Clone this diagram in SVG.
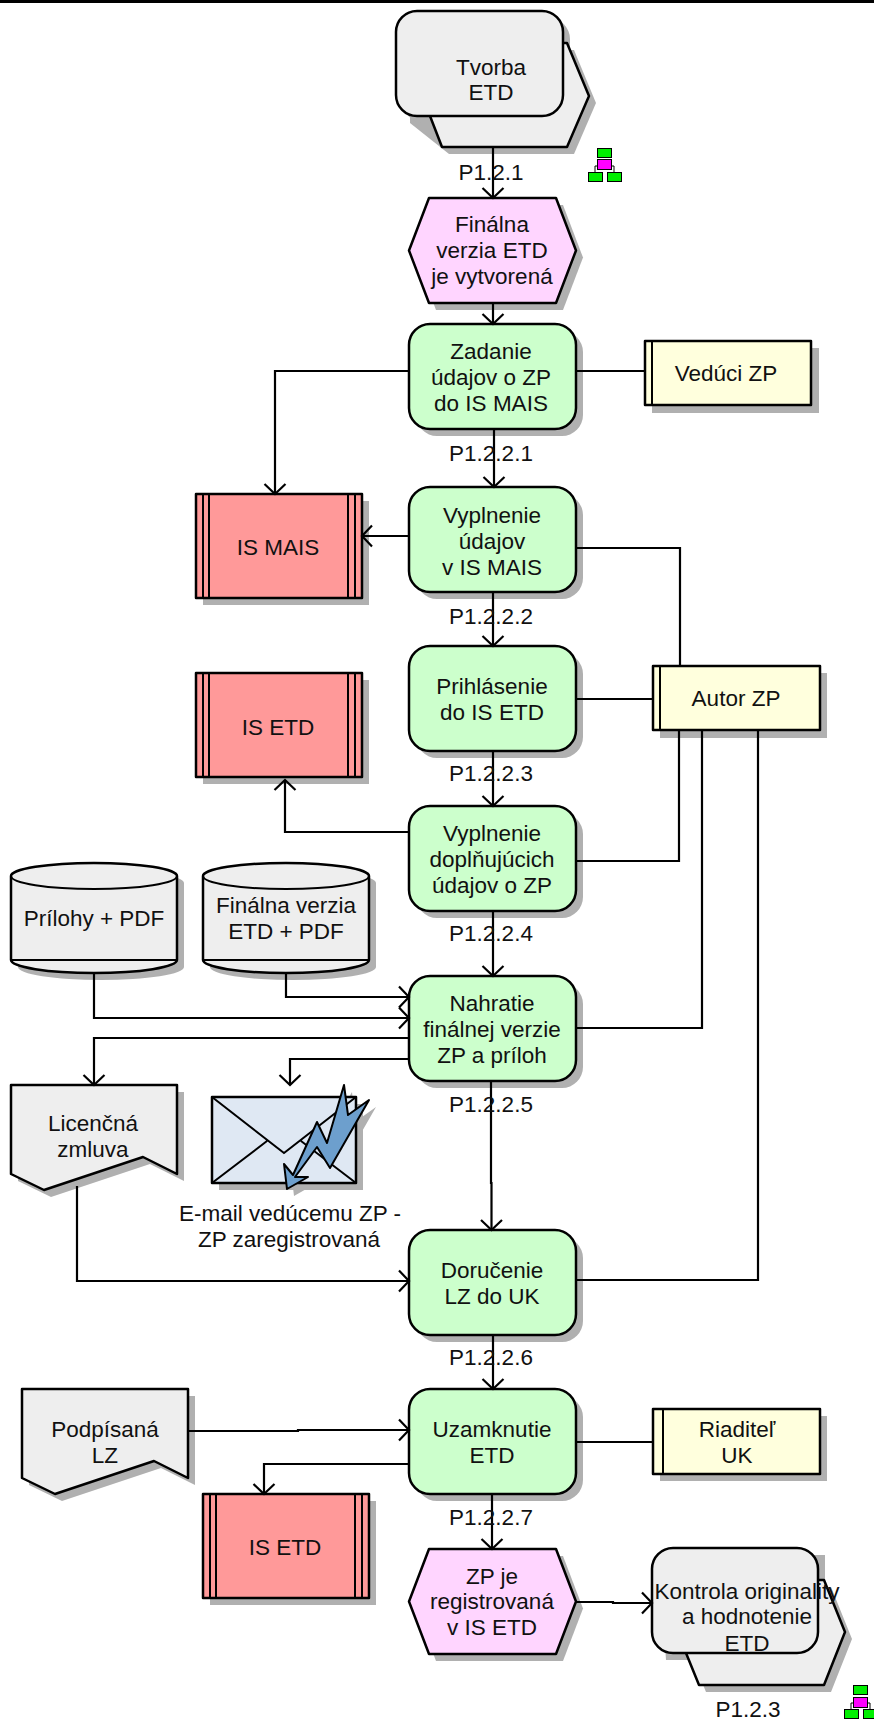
<svg xmlns="http://www.w3.org/2000/svg" width="874" height="1722" viewBox="0 0 874 1722">
<style>
text{font-family:"Liberation Sans",Arial,sans-serif;font-size:22.5px;fill:#111;text-anchor:middle}
.s{fill:#b0b0b0;stroke:none}
.n{stroke:#000;stroke-width:2.5;stroke-linejoin:round}
.l{fill:none;stroke:#000;stroke-width:2}
.gr{fill:#eeeeee}.g{fill:#ccffcc}.p{fill:#ffd5ff}.r{fill:#ff9999}.y{fill:#ffffdd}
.c{fill:none;stroke:#000;stroke-width:2.2}
.ig{fill:#00ee00;stroke:#000;stroke-width:1}.im{fill:#ff00ff;stroke:#000;stroke-width:1}
</style>
<defs>
<marker id="a" markerUnits="userSpaceOnUse" markerWidth="24" markerHeight="24" refX="12" refY="12" orient="auto"><path d="M2 1.500L12 12L2 22.500" fill="none" stroke="#000" stroke-width="2.200"/></marker>
<rect id="gb" width="167" height="105" rx="21"/>
<path id="hx" d="M20 0H147L167 52.500L147 105H20L0 52.500Z"/>
<path id="pr" d="M0 0H166V104H0Z"/>
<path id="sb" d="M0 0H167V65H0Z"/>
<path id="cy" d="M0 13A83 13 0 0 1 166 13V97A83 13 0 0 1 0 97Z"/>
<path id="doc" d="M0 0H166V89L132 72L33 105L0 89Z"/>
</defs>
<rect width="874" height="3" fill="#000"/>

<g id="n-tvorba">
<path class="s" d="M410 50H574L596 103L574 154H449L410 123Z"/><rect class="s" x="403" y="18" width="167" height="105" rx="21"/>
<path class="n gr" d="M430 43H567L589 96L567 147H442L430 116Z"/><rect class="n gr" x="396" y="11" width="167" height="105" rx="21"/>
<text x="491" y="75">Tvorba</text><text x="491" y="100">ETD</text>
</g>
<g id="n-icon1">
<path class="l" d="M595 172V166H614V172" style="stroke-width:1"/>
<rect class="ig" x="597.500" y="148.500" width="14" height="9"/><rect class="im" x="597.500" y="159.500" width="14" height="10"/><rect class="ig" x="588.500" y="172.500" width="14" height="9"/><rect class="ig" x="607.500" y="172.500" width="14" height="9"/>
</g>
<g id="n-finalna">
<use href="#hx" class="s" x="416" y="205"/><use href="#hx" class="n p" x="409" y="198"/>
<text x="492" y="232">Finálna</text><text x="492" y="258">verzia ETD</text><text x="492" y="284">je vytvorená</text>
</g>
<g id="n-zadanie">
<use href="#gb" class="s" x="416" y="331"/><use href="#gb" class="n g" x="409" y="324"/>
<text x="491" y="359">Zadanie</text><text x="491" y="385">údajov o ZP</text><text x="491" y="411">do IS MAIS</text>
</g>
<g id="n-veduci">
<use href="#sb" class="s" x="652" y="348"/><path class="n y" d="M645 341H811V405H645Z"/><path class="l" d="M652 341V405"/>
<text x="726" y="381">Vedúci ZP</text>
</g>
<g id="n-ismais">
<use href="#pr" class="s" x="203" y="501"/><use href="#pr" class="n r" x="196" y="494"/><path class="l" d="M203 494V598M209 494V598M348 494V598M355 494V598"/>
<text x="278" y="555">IS MAIS</text>
</g>
<g id="n-vyplnenie">
<use href="#gb" class="s" x="416" y="494"/><use href="#gb" class="n g" x="409" y="487"/>
<text x="492" y="523">Vyplnenie</text><text x="492" y="549">údajov</text><text x="492" y="575">v IS MAIS</text>
</g>
<g id="n-prihlasenie">
<use href="#gb" class="s" x="416" y="653"/><use href="#gb" class="n g" x="409" y="646"/>
<text x="492" y="694">Prihlásenie</text><text x="492" y="720">do IS ETD</text>
</g>
<g id="n-autor">
<use href="#sb" class="s" x="660" y="673"/><path class="n y" d="M653 666H820V730H653Z"/><path class="l" d="M660 666V730"/>
<text x="736" y="706">Autor ZP</text>
</g>
<g id="n-isetd1">
<use href="#pr" class="s" x="203" y="680"/><use href="#pr" class="n r" x="196" y="673"/><path class="l" d="M203 673V777M209 673V777M348 673V777M355 673V777"/>
<text x="278" y="735">IS ETD</text>
</g>
<g id="n-doplnujucich">
<use href="#gb" class="s" x="416" y="813"/><use href="#gb" class="n g" x="409" y="806"/>
<text x="492" y="841">Vyplnenie</text><text x="492" y="867">doplňujúcich</text><text x="492" y="893">údajov o ZP</text>
</g>
<g id="n-prilohy">
<use href="#cy" class="s" x="18" y="870"/><use href="#cy" class="n gr" x="11" y="863"/><path class="l" d="M11 876A83 13 0 0 0 177 876M11 960H177"/>
<text x="94" y="926">Prílohy + PDF</text>
</g>
<g id="n-finalna-pdf">
<use href="#cy" class="s" x="210" y="870"/><use href="#cy" class="n gr" x="203" y="863"/><path class="l" d="M203 876A83 13 0 0 0 369 876M203 960H369"/>
<text x="286" y="913">Finálna verzia</text><text x="286" y="939">ETD + PDF</text>
</g>
<g id="n-nahratie">
<use href="#gb" class="s" x="416" y="983"/><use href="#gb" class="n g" x="409" y="976"/>
<text x="492" y="1011">Nahratie</text><text x="492" y="1037">finálnej verzie</text><text x="492" y="1063">ZP a príloh</text>
</g>
<g id="n-licencna">
<use href="#doc" class="s" x="18" y="1092"/><use href="#doc" class="n gr" x="11" y="1085"/>
<text x="93" y="1131">Licenčná</text><text x="93" y="1157">zmluva</text>
</g>
<g id="n-email">
<path class="s" d="M219 1104H363V1190H219ZM352 1092L355 1122L376 1107L337 1175L324 1154L302 1184L315 1184L294 1196L291 1171L300 1182Z"/>
<path class="n" fill="#dfe8f3" d="M212 1097H356V1183H212Z"/>
<path class="l" d="M212 1097L284 1153L356 1097M212 1183L267 1141M356 1183L301 1141"/>
<path class="n" style="stroke-width:2" fill="#6d9fcd" d="M344 1085L348 1115L369 1100L330 1168L317 1147L295 1177L308 1177L287 1189L284 1164L293 1175L317 1122L327 1143Z"/>
<text x="290" y="1221">E-mail vedúcemu ZP -</text><text x="289" y="1247">ZP zaregistrovaná</text>
</g>
<g id="n-dorucenie">
<use href="#gb" class="s" x="416" y="1237"/><use href="#gb" class="n g" x="409" y="1230"/>
<text x="492" y="1278">Doručenie</text><text x="492" y="1304">LZ do UK</text>
</g>
<g id="n-podpisana">
<use href="#doc" class="s" x="29" y="1396"/><use href="#doc" class="n gr" x="22" y="1389"/>
<text x="105" y="1437">Podpísaná</text><text x="105" y="1463">LZ</text>
</g>
<g id="n-uzamknutie">
<use href="#gb" class="s" x="416" y="1396"/><use href="#gb" class="n g" x="409" y="1389"/>
<text x="492" y="1437">Uzamknutie</text><text x="492" y="1463">ETD</text>
</g>
<g id="n-riaditel">
<use href="#sb" class="s" x="660" y="1416"/><path class="n y" d="M653 1409H820V1474H653Z"/><path class="l" d="M663 1409V1474"/>
<text x="737" y="1437">Riaditeľ</text><text x="737" y="1463">UK</text>
</g>
<g id="n-isetd2">
<use href="#pr" class="s" x="210" y="1501"/><use href="#pr" class="n r" x="203" y="1494"/><path class="l" d="M210 1494V1598M216 1494V1598M355 1494V1598M362 1494V1598"/>
<text x="285" y="1555">IS ETD</text>
</g>
<g id="n-registrovana">
<use href="#hx" class="s" x="416" y="1556"/><use href="#hx" class="n p" x="409" y="1549"/>
<text x="492" y="1584">ZP je</text><text x="492" y="1609">registrovaná</text><text x="492" y="1635">v IS ETD</text>
</g>
<g id="n-kontrola">
<path class="s" d="M825 1587H831L852 1639L831 1692H706L693 1660H666L659 1555H825Z"/>
<path class="n gr" d="M686 1580H824L845 1632L824 1685H699L686 1653Z"/><rect class="n gr" x="652" y="1548" width="166" height="105" rx="21"/>
<text x="747" y="1599">Kontrola originality</text><text x="747" y="1624">a hodnotenie</text><text x="747" y="1651">ETD</text>
</g>
<g id="n-icon2">
<path class="l" d="M851 1709V1703H870V1709" style="stroke-width:1"/>
<rect class="ig" x="853.500" y="1685.500" width="14" height="9"/><rect class="im" x="853.500" y="1697.500" width="14" height="10"/><rect class="ig" x="844.500" y="1709.500" width="14" height="9"/><rect class="ig" x="863.500" y="1709.500" width="14" height="9"/>
</g>

<g id="connectors">
<path class="c" marker-end="url(#a)" d="M493 147V198"/>
<path class="c" marker-end="url(#a)" d="M493 303V324"/>
<path class="c" marker-end="url(#a)" d="M409 371H275V494"/>
<path class="c" d="M576 371H645"/>
<path class="c" marker-end="url(#a)" d="M494 429V487"/>
<path class="c" marker-end="url(#a)" d="M409 536H362"/>
<path class="c" d="M576 548H680V666"/>
<path class="c" marker-end="url(#a)" d="M493 592V646"/>
<path class="c" d="M576 699H653"/>
<path class="c" marker-end="url(#a)" d="M493 751V806"/>
<path class="c" marker-end="url(#a)" d="M409 832H285V780"/>
<path class="c" d="M576 861H679V730"/>
<path class="c" d="M576 1028H702V730"/>
<path class="c" d="M576 1280H758V730"/>
<path class="c" marker-end="url(#a)" d="M493 911V976"/>
<path class="c" marker-end="url(#a)" d="M94 973V1018H409"/>
<path class="c" marker-end="url(#a)" d="M286 973V997H409"/>
<path class="c" marker-end="url(#a)" d="M409 1038H94V1085"/>
<path class="c" marker-end="url(#a)" d="M409 1059H290V1085"/>
<path class="c" marker-end="url(#a)" d="M491 1081V1183H491.500V1230"/>
<path class="c" marker-end="url(#a)" d="M77 1186V1281H409"/>
<path class="c" marker-end="url(#a)" d="M493 1335V1389"/>
<path class="c" marker-end="url(#a)" d="M188 1431H298V1430H409"/>
<path class="c" d="M576 1442H653"/>
<path class="c" marker-end="url(#a)" d="M409 1464H264V1494"/>
<path class="c" marker-end="url(#a)" d="M492 1494V1549"/>
<path class="c" marker-end="url(#a)" d="M576 1602H613V1603H652"/>
</g>
<g id="labels">
<text x="491" y="180">P1.2.1</text>
<text x="491" y="461">P1.2.2.1</text>
<text x="491" y="624">P1.2.2.2</text>
<text x="491" y="781">P1.2.2.3</text>
<text x="491" y="941">P1.2.2.4</text>
<text x="491" y="1112">P1.2.2.5</text>
<text x="491" y="1365">P1.2.2.6</text>
<text x="491" y="1525">P1.2.2.7</text>
<text x="748" y="1717">P1.2.3</text>
</g>
</svg>
